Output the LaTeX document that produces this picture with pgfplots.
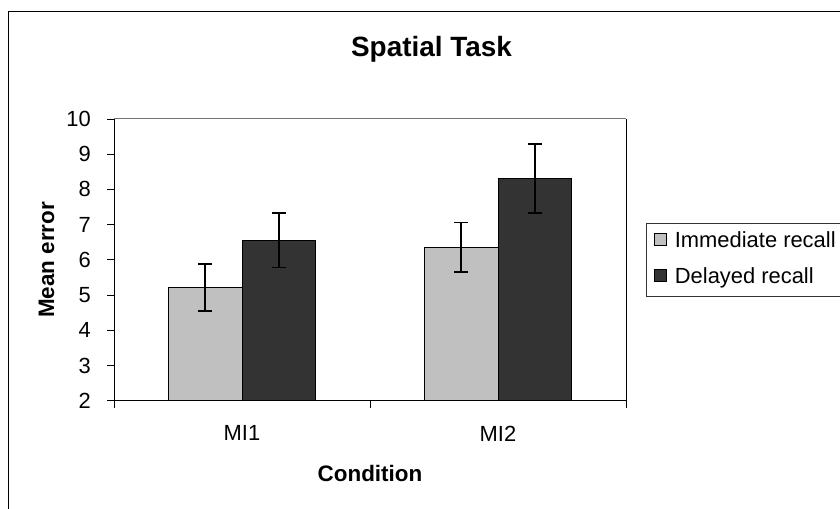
\documentclass[border=0pt]{standalone}
\usepackage{fontspec}
\setmainfont{Liberation Sans}
\usepackage{pgfplots}
\pgfplotsset{compat=1.18}
\definecolor{immed}{HTML}{C0C0C0}
\definecolor{delay}{HTML}{333333}

\begin{document}
\begin{tikzpicture}
\useasboundingbox (0,0) rectangle (840bp,509bp);
\clip (0,0) rectangle (840bp,509bp);
\fill[white] (0,0) rectangle (840bp,509bp);
% chart area border (runs off the right and bottom edges)
\draw[line width=1.2bp] (8.5bp,497.5bp) rectangle (900bp,-50bp);
\node[font=\bfseries\fontsize{28}{32}\selectfont, anchor=base] at (431.5bp,452.3bp) {Spatial Task};

\begin{axis}[
    name=ax,
    at={(114bp,108.3bp)}, anchor=south west,
    scale only axis, width=512bp, height=281.7bp,
    xmin=0.5, xmax=2.5, ymin=2, ymax=10,
    axis lines*=left,
    axis line style={line width=1bp, black},
    ytick distance=1,
    tick align=outside,
    major tick length=7bp,
    tick style={line width=1bp, black},
    xtick={0.5,1.5,2.5}, xticklabels={},
    extra x ticks={1,2}, extra x tick labels={MI1,MI2},
    extra x tick style={major tick length=0pt},
    /pgf/number format/assume math mode=true,
    tick label style={font=\fontsize{22}{26}\selectfont, inner sep=0pt},
    yticklabel style={anchor=east, xshift=-16bp},
    xticklabel style={anchor=north, yshift=-25bp},
    xlabel={Condition}, ylabel={Mean error},
    label style={font=\bfseries\fontsize{22.5}{26}\selectfont},
    xlabel style={at={(axis description cs:0.5,-0.2875)}, anchor=base},
    ylabel style={at={(axis description cs:-0.1318,0.5)}, anchor=center},
    ybar, bar width=0.287,
    legend style={at={(1.039,0.632)}, anchor=north west,
        draw=black!80, line width=0.8bp,
        font=\fontsize{22}{26}\selectfont,
        inner xsep=8bp, inner ysep=7bp, row sep=13.5bp,
        nodes={text height=16bp, text depth=5bp, inner sep=1bp}},
    legend cell align=left,
    legend image code/.code={%
        \path[draw=none, fill=none] (0bp,0bp) -- (19bp,0bp);
        \draw[#1, line width=1bp] (0bp,-3.5bp) rectangle (12bp,8.5bp);},
]
\addplot+[fill=immed, draw=black, line width=1bp, bar shift=-0.1435,
    error bars/.cd, y dir=both, y explicit,
    error bar style={line width=1.8bp, black},
    error mark options={rotate=90, mark size=7bp, line width=1.8bp, black}]
    coordinates {(1,5.21) +- (0,0.67) (2,6.36) +- (0,0.70)};
\addlegendentry{Immediate recall\hspace{20bp}}
\addplot+[fill=delay, draw=black, line width=1bp, bar shift=0.1435,
    error bars/.cd, y dir=both, y explicit,
    error bar style={line width=1.8bp, black},
    error mark options={rotate=90, mark size=7bp, line width=1.8bp, black}]
    coordinates {(1,6.55) +- (0,0.77) (2,8.30) +- (0,0.98)};
\addlegendentry{Delayed recall}
\end{axis}
\draw[line width=1bp, black!55] (ax.north west) -- (ax.north east);
\draw[line width=1bp, black] (ax.north east) -- (ax.south east);
\end{tikzpicture}
\end{document}
